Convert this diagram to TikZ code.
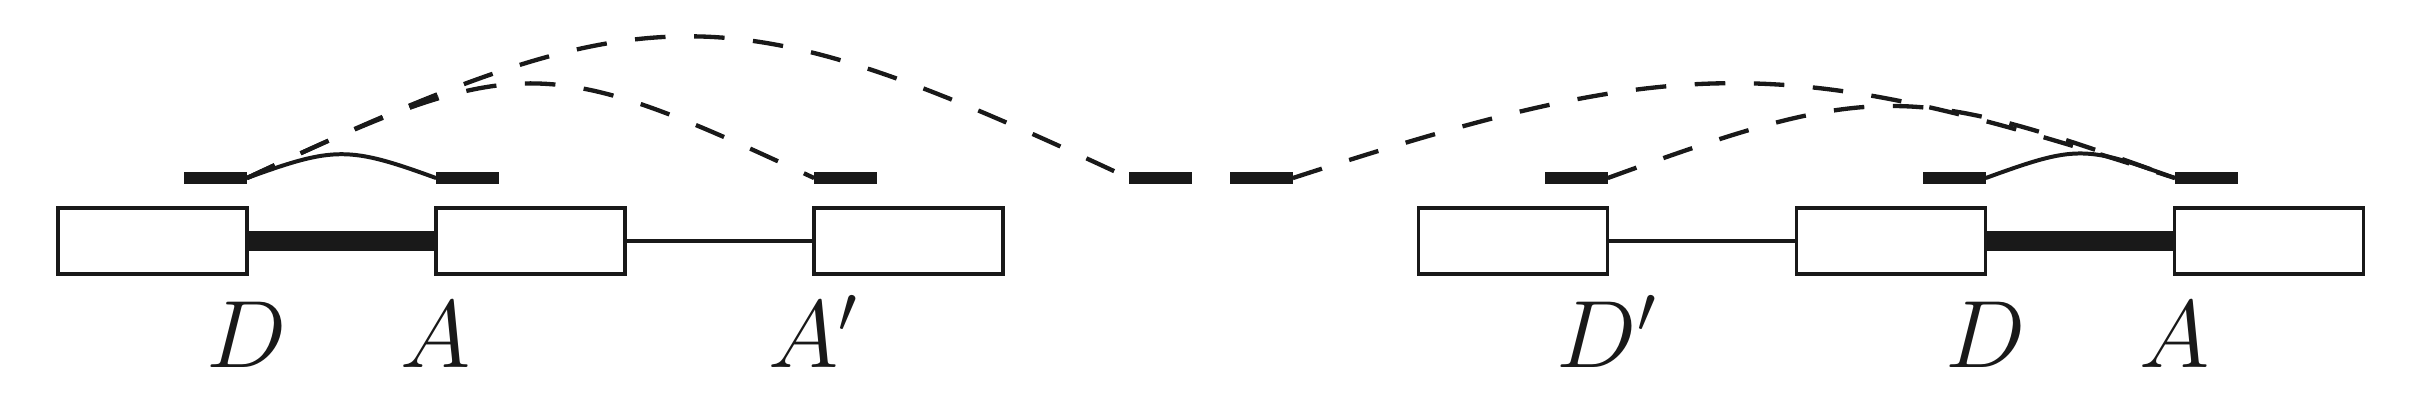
\documentclass[tikz,border=0pt]{standalone}
\usepackage{tikz}
\usepackage{amsmath}
\usepackage{amssymb}
\usetikzlibrary{positioning}
\tikzset{exon/.style={draw, fill=white, line width=0.5pt, minimum width=1cm, minimum height=0.35cm, inner sep=0pt, outer sep=0pt},
	ssite/.style={fill, minimum width=0.333cm, minimum height=0.063cm, inner sep=0pt, outer sep=0pt},
	splice/.style={line width=0.65pt, dash pattern=on 4.6pt off 4.3pt},
	joined/.style={line width=0.6pt},
	lbl/.style={anchor=base, inner sep=0pt, font=\fontsize{14}{17}\selectfont}}

\begin{document}
\begin{tikzpicture}[black!90]
					\useasboundingbox (-0.307,-1.249) rectangle (12.529,0.942);

					\node[exon] (ex1) at (0.5,-0.333) {};
					\node[exon, right=1cm of ex1] (ex2) {};
					\node[exon, right=1cm of ex2] (ex3) {};
					\draw[line width=3pt] (ex1.east) -- (ex2.west);
					\draw[line width=0.5pt] (ex2.east) -- (ex3.west);

					\node[ssite] (don) at (0.833,0) {};
					\node[ssite] (acc) at (2.167,0) {};
					\node[ssite] (accp) at (4.167,0) {};
					\node[ssite] (farL) at (5.833,0) {};

					\draw[joined] (don.east) to[out=20, in=160, looseness=1.26] (acc.west);
					\draw[splice] (don.east) to[out=25, in=155, looseness=1.35] (accp.west);
					\draw[splice] (don.east) to[out=25, in=155, looseness=1.3] (farL.west);

					\node[lbl] (lD) at (1,-1) {$D$};
					\node[lbl] (lA) at (2,-1) {$A$};
					\node[lbl] (lAp) at (4,-1) {$A'$};

					\begin{scope}[xshift = 6.2cm]
						\node[exon] (ex4) at (1.5,-0.333) {};
						\node[exon, right=1cm of ex4] (ex5) {};
						\node[exon, right=1cm of ex5] (ex6) {};
						\draw[line width=0.5pt] (ex4.east) -- (ex5.west);
						\draw[line width=3pt] (ex5.east) -- (ex6.west);

						\node[ssite] (farR) at (0.167,0) {};
						\node[ssite] (donp) at (1.833,0) {};
						\node[ssite] (donR) at (3.833,0) {};
						\node[ssite] (accR) at (5.167,0) {};

						\draw[splice] (farR.east) to[out=18, in=162, looseness=1.19] (accR.west);
						\draw[splice] (donp.east) to[out=20, in=160, looseness=1.27] (accR.west);
						\draw[joined] (donR.east) to[out=20, in=160, looseness=1.3] (accR.west);

						\node[lbl] (lDp) at (2,-1) {$D'$};
						\node[lbl] (lDR) at (4,-1) {$D$};
						\node[lbl] (lAR) at (5,-1) {$A$};
					\end{scope}

				\end{tikzpicture}
\end{document}
